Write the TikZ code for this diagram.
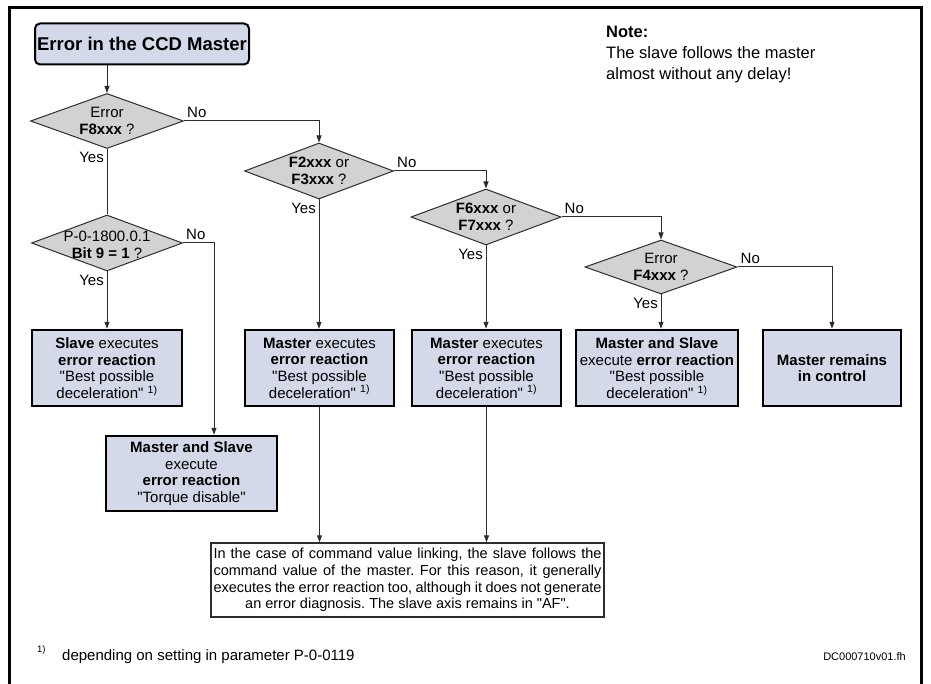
\documentclass[tikz,border=0pt]{standalone}
\usepackage{fontspec}
\setmainfont{Liberation Sans}[Ligatures=TeXOff]
\usetikzlibrary{shapes.geometric,arrows.meta}
\definecolor{boxfill}{RGB}{211,217,233}
\definecolor{diafill}{RGB}{210,210,210}
\definecolor{linecol}{RGB}{45,45,45}
\frenchspacing

\begin{document}
\begin{tikzpicture}[x=1pt,y=-1pt,
  every node/.style={font=\fontsize{15}{16.7}\selectfont, inner sep=0pt},
  actbox/.style={draw=black, line width=2.4pt, fill=boxfill, align=center, minimum height=76pt},
  dia/.style={diamond, draw=linecol, line width=1pt, fill=diafill},
  diatext/.style={align=center},
  conn/.style={draw=linecol, line width=1pt},
  arr/.style={conn, -{Triangle[length=7pt,width=5pt]}},
  nolbl/.style={anchor=south west},
  yeslbl/.style={anchor=north east}
]
\useasboundingbox (0,0) rectangle (931,684);

% outer frame
\draw[line width=3pt, black] (9,690) -- (9,8) -- (921,8) -- (921,690);

% start box
\node[draw=black, line width=2pt, fill=boxfill, rounded corners=5pt,
      minimum width=214pt, minimum height=41pt,
      font=\bfseries\fontsize{18.5}{20}\selectfont] (title) at (142,44) {Error in the CCD Master};

% note
\node[anchor=north west, align=left, font=\fontsize{16.5}{21}\selectfont] (note) at (606,26)
  {\textbf{Note:}\\The slave follows the master\\almost without any delay!};

% decisions
\node[dia, minimum width=153pt, minimum height=55pt] (d1) at (107,121) {};
\node[diatext] at (d1) {Error\\\textbf{F8xxx} ?};
\node[dia, minimum width=151pt, minimum height=56pt] (d3) at (107,243) {};
\node[diatext] at ([yshift=-2pt]d3.center) {P-0-1800.0.1\\\textbf{Bit 9 = 1} ?};
\node[dia, minimum width=149pt, minimum height=56pt] (d2) at (319,171) {};
\node[diatext] at (d2) {\textbf{F2xxx} or\\\textbf{F3xxx} ?};
\node[dia, minimum width=150pt, minimum height=56pt] (d4) at (486,217) {};
\node[diatext] at (d4) {\textbf{F6xxx} or\\\textbf{F7xxx} ?};
\node[dia, minimum width=152pt, minimum height=54pt] (d5) at (661,267) {};
\node[diatext] at (d5) {Error\\\textbf{F4xxx} ?};

% reactions
\node[actbox, minimum width=150pt] (b1) at (107,368)
  {\textbf{Slave} executes\\\textbf{error reaction}\\"Best possible\\deceleration" \textsuperscript{1)}};
\node[actbox, minimum width=149pt] (b2) at (319.5,368)
  {\textbf{Master} executes\\\textbf{error reaction}\\"Best possible\\deceleration" \textsuperscript{1)}};
\node[actbox, minimum width=149pt] (b3) at (486.5,368)
  {\textbf{Master} executes\\\textbf{error reaction}\\"Best possible\\deceleration" \textsuperscript{1)}};
\node[actbox, minimum width=162pt] (b4) at (657,368)
  {\textbf{Master and Slave}\\execute \textbf{error reaction}\\"Best possible\\deceleration" \textsuperscript{1)}};
\node[actbox, minimum width=138pt, font=\bfseries\fontsize{15}{16.7}\selectfont] (b5) at (832,368)
  {Master remains\\in control};
\node[actbox, minimum width=171pt, minimum height=75pt] (b6) at (191.5,473.5)
  {\textbf{Master and Slave}\\execute\\\textbf{error reaction}\\"Torque disable"};

% explanation (justified, last line centred)
\node[draw=linecol, line width=1.4pt, fill=white, align=center,
      minimum width=393pt, minimum height=74pt,
      font=\fontsize{14.5}{16.6}\selectfont] (expl) at (407.5,580)
  {\makebox[388pt][s]{In the case of command value linking, the slave follows the}\\
   \makebox[388pt][s]{command value of the master. For this reason, it generally}\\
   \makebox[388pt][s]{executes the error reaction too, although it does not generate}\\
   an error diagnosis. The slave axis remains in "AF".};

% footnote and drawing number
\node[anchor=base west, font=\fontsize{9.5}{11}\selectfont] (fnmark) at (37,652) {1)};
\node[anchor=base west] (fn) at (62,660) {depending on setting in parameter P-0-0119};
\node[anchor=base east, font=\fontsize{11}{13}\selectfont] (dcno) at (906,660) {DC000710v01.fh};

% connectors
\draw[arr] (d1.north |- title.south) -- (d1.north);
\draw[arr] (d1.east) -| (d2.north);
\draw[conn] (d1.south) -- (d3.north);
\draw[arr] (d3.east) -| ([xshift=22.5pt]b6.north);
\draw[arr] (d3.south) -- (b1.north);
\draw[arr] (d2.east) -| (d4.north);
\draw[arr] (d2.south) -- (d2.south |- b2.north);
\draw[arr] (d4.east) -| (d5.north);
\draw[arr] (d4.south) -- (d4.south |- b3.north);
\draw[arr] (d5.south) -- (d5.south |- b4.north);
\draw[arr] (d5.east) -| (b5.north);
\draw[arr] (b2.south) -- (b2.south |- expl.north);
\draw[arr] (b3.south) -- (b3.south |- expl.north);

% branch labels
\foreach \d in {d1,d2,d3,d4,d5}{
  \node[nolbl] at ([xshift=3pt,yshift=3pt]\d.east) {No};
  \node[yeslbl] at ([xshift=-3pt,yshift=-3pt]\d.south) {Yes};
}
\end{tikzpicture}
\end{document}
